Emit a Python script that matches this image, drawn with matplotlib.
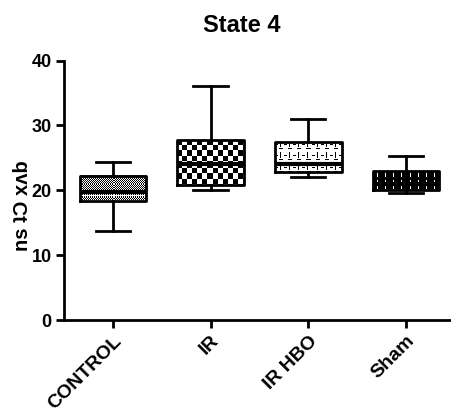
import numpy as np
import matplotlib.pyplot as plt

# values (box plot summary per group)
groups = ["CONTROL", "IR", "IR HBO", "Sham"]
whislo = [13.8, 20.05, 22.1, 19.6]
q1 = [18.4, 20.8, 22.9, 20.05]
med = [19.7, 24.1, 24.1, 21.0]
q3 = [22.2, 27.7, 27.5, 23.0]
whishi = [24.3, 36.1, 31.0, 25.3]
yticks = [0, 10, 20, 30, 40]

plt.rcParams['font.family'] = ['Liberation Sans', 'DejaVu Sans']
plt.rcParams['font.weight'] = 'bold'

fig = plt.figure(figsize=(4.52, 4.17), dpi=100)
ax = fig.add_axes([0.1416, 0.2326, 0.854, 0.622])
ax.set_xlim(-0.5, 3.45)
ax.set_ylim(0, 40)

width = 0.68
pos = np.arange(len(groups))


# fill patterns, 1 = white, 0 = black, in pixel rows/cols
def pat_fine(i, j):
    return ((i + j) % 2).astype(float)


def pat_fine_low(i, j):
    p = ((i + j) % 2).astype(float)
    p[(i % 4) == 3] = 1.0
    return p


def pat_checker(i, j):
    return ((i // 5 + j // 5) % 2).astype(float)


def pat_dash(i, j):
    p = np.ones(i.shape)
    a, b = i % 10, j % 9
    p[(a == 3) & (b < 3)] = 0
    p[(b == 5) & (a >= 1) & (a <= 5)] = 0
    p[(a == 7) & (b >= 4) & (b <= 7)] = 0
    return p


def pat_sham(i, j):
    p = np.zeros(i.shape)
    a, b = i % 8, j % 8
    p[(b == 4) & (a >= 1) & (a <= 5)] = 1
    return p


upper_pats = [pat_fine, pat_checker, pat_dash, pat_sham]
lower_pats = [pat_fine_low, pat_checker, pat_dash, pat_sham]

fig.canvas.draw()


def fill(x0, x1, y0, y1, fn):
    (px0, py0), (px1, py1) = ax.transData.transform([(x0, y0), (x1, y1)])
    w = max(int(round(px1 - px0)), 1)
    h = max(int(round(py1 - py0)), 1)
    i, j = np.mgrid[0:h, 0:w]
    ax.imshow(fn(i, j), extent=(x0, x1, y0, y1), cmap='gray', vmin=0, vmax=1,
              interpolation='nearest', aspect='auto', zorder=1)


for k in range(len(groups)):
    x0, x1 = pos[k] - width / 2, pos[k] + width / 2
    fill(x0, x1, med[k], q3[k], upper_pats[k])
    fill(x0, x1, q1[k], med[k], lower_pats[k])

stats = [dict(med=med[k], q1=q1[k], q3=q3[k], whislo=whislo[k], whishi=whishi[k],
              fliers=[], label=groups[k]) for k in range(len(groups))]
ax.bxp(stats, positions=pos, widths=width, capwidths=0.35, showfliers=False,
       boxprops=dict(color='black', linewidth=2),
       medianprops=dict(color='black', linewidth=3),
       whiskerprops=dict(color='black', linewidth=2),
       capprops=dict(color='black', linewidth=2), zorder=3)

ax.set_xlim(-0.5, 3.45)
ax.set_ylim(0, 40)
ax.set_yticks(yticks)
ax.set_xticks(pos)
ax.set_xticklabels(groups, rotation=45, ha='right', rotation_mode='anchor',
                   fontsize=14, fontweight='bold')
for t in ax.get_yticklabels():
    t.set_fontsize(13)
    t.set_fontweight('bold')
ax.tick_params(direction='out', length=6, width=2, pad=3)
ax.tick_params(axis='x', pad=3)
for s in ['top', 'right']:
    ax.spines[s].set_visible(False)
for s in ['left', 'bottom']:
    ax.spines[s].set_linewidth(2)

fig.text(0.535, 0.94, "State 4", ha='center', va='center', fontsize=17, fontweight='bold')
fig.text(0.0487, 0.508, "ns ʇϽ xʌb", rotation=90, ha='center', va='center',
         fontsize=14.5, fontweight='bold')

fig.savefig('out.png', dpi=100)
